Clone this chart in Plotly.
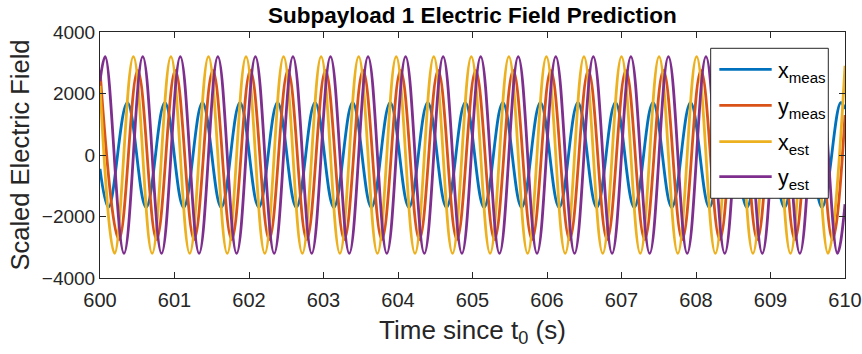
import plotly.graph_objects as go

# ---- data (extrema times and values, plus end points) ----
t_x_meas = [600.0, 600.115, 600.367, 600.619, 600.871, 601.123, 601.375, 601.627, 601.879,
            602.131, 602.383, 602.635, 602.887, 603.139, 603.391, 603.643, 603.895, 604.147,
            604.399, 604.651, 604.903, 605.155, 605.407, 605.659, 605.911, 606.163, 606.415,
            606.667, 606.919, 607.171, 607.423, 607.675, 607.927, 608.179, 608.431, 608.683,
            608.935, 609.187, 609.439, 609.691, 609.943, 610.0]
v_x_meas = [-450, -1700, 1700, -1700, 1700, -1700, 1700, -1700, 1700,
            -1700, 1700, -1700, 1700, -1700, 1700, -1700, 1700, -1700,
            1700, -1700, 1700, -1700, 1700, -1700, 1700, -1700, 1700,
            -1700, 1700, -1700, 1700, -1700, 1700, -1700, 1700, -1700,
            1700, -1700, 1700, -1700, 1700, 1500]

t_y_meas = [600.0, 600.255, 600.507, 600.759, 601.011, 601.263, 601.515, 601.767, 602.019,
            602.271, 602.523, 602.775, 603.027, 603.279, 603.531, 603.783, 604.035, 604.287,
            604.539, 604.791, 605.043, 605.295, 605.547, 605.799, 606.051, 606.303, 606.555,
            606.807, 607.059, 607.311, 607.563, 607.815, 608.067, 608.319, 608.571, 608.823,
            609.075, 609.327, 609.579, 609.831, 610.0]
v_y_meas = [2750, -2750, 2750, -2750, 2750, -2750, 2750, -2750, 2750,
            -2750, 2750, -2750, 2750, -2750, 2750, -2750, 2750, -2750,
            2750, -2750, 2750, -2750, 2750, -2750, 2750, -2750, 2750,
            -2750, 2750, -2750, 2750, -2750, 2750, -2750, 2750, -2750,
            2750, -2750, 2750, -2750, 1300]

t_x_est = [600.0, 600.196, 600.448, 600.700, 600.952, 601.204, 601.456, 601.708, 601.960,
           602.212, 602.464, 602.716, 602.968, 603.220, 603.472, 603.724, 603.976, 604.228,
           604.480, 604.732, 604.984, 605.236, 605.488, 605.740, 605.992, 606.244, 606.496,
           606.748, 607.000, 607.252, 607.504, 607.756, 608.008, 608.260, 608.512, 608.764,
           609.016, 609.268, 609.520, 609.772, 610.0]
v_x_est = [2250, -3200, 3200, -3200, 3200, -3200, 3200, -3200, 3200,
           -3200, 3200, -3200, 3200, -3200, 3200, -3200, 3200, -3200,
           3200, -3200, 3200, -3200, 3200, -3200, 3200, -3200, 3200,
           -3200, 3200, -3200, 3200, -3200, 3200, -3200, 3200, -3200,
           3200, -3200, 3200, -3200, 2900]

t_y_est = [600.0, 600.070, 600.322, 600.574, 600.826, 601.078, 601.330, 601.582, 601.834,
           602.086, 602.338, 602.590, 602.842, 603.094, 603.346, 603.598, 603.850, 604.102,
           604.354, 604.606, 604.858, 605.110, 605.362, 605.614, 605.866, 606.118, 606.370,
           606.622, 606.874, 607.126, 607.378, 607.630, 607.882, 608.134, 608.386, 608.638,
           608.890, 609.142, 609.394, 609.646, 609.898, 610.0]
v_y_est = [2400, 3200, -3200, 3200, -3200, 3200, -3200, 3200, -3200,
           3200, -3200, 3200, -3200, 3200, -3200, 3200, -3200, 3200,
           -3200, 3200, -3200, 3200, -3200, 3200, -3200, 3200, -3200,
           3200, -3200, 3200, -3200, 3200, -3200, 3200, -3200, 3200,
           -3200, 3200, -3200, 3200, -3200, -1600]

series_names = ["x<sub>meas</sub>", "y<sub>meas</sub>", "x<sub>est</sub>", "y<sub>est</sub>"]
series_colors = ["#0072BD", "#D95319", "#EDB120", "#7E2F8E"]
x_ticks = [600, 601, 602, 603, 604, 605, 606, 607, 608, 609, 610]
y_ticks = [-4000, -2000, 0, 2000, 4000]

FONT = "Liberation Sans, Arial, sans-serif"
AX = "#262626"

fig = go.Figure()
for t, v, name, col in zip([t_x_meas, t_y_meas, t_x_est, t_y_est],
                           [v_x_meas, v_y_meas, v_x_est, v_y_est],
                           series_names, series_colors):
    fig.add_trace(go.Scatter(x=t, y=v, mode="lines", name=name, showlegend=False,
                             line=dict(color=col, width=2.8, shape="spline",
                                       smoothing=1.1, simplify=False)))

# ---- legend drawn as a boxed key (paper coordinates) ----
legend_x0, legend_x1 = 0.8197, 0.9776
legend_y0, legend_y1 = 0.324, 0.9337
key_line_x = (0.8313, 0.9016)
key_text_x = 0.9074
key_rows_y = [0.8484, 0.7020, 0.5541, 0.4118]

shapes = [dict(type="rect", xref="paper", yref="paper",
               x0=legend_x0, x1=legend_x1, y0=legend_y0, y1=legend_y1,
               fillcolor="white", line=dict(color=AX, width=1), layer="above")]
annotations = []
for name, col, yy in zip(series_names, series_colors, key_rows_y):
    shapes.append(dict(type="line", xref="paper", yref="paper",
                       x0=key_line_x[0], x1=key_line_x[1], y0=yy, y1=yy,
                       line=dict(color=col, width=2.8), layer="above"))
    annotations.append(dict(xref="paper", yref="paper", x=key_text_x, y=yy,
                            xanchor="left", yanchor="middle", showarrow=False,
                            text=name, yshift=-3,
                            font=dict(size=21.5, color="black", family=FONT)))

fig.update_layout(
    width=862, height=354,
    margin=dict(l=100, r=17, t=32, b=76, autoexpand=False),
    paper_bgcolor="white", plot_bgcolor="white",
    font=dict(family=FONT, color=AX),
    title=dict(text="<b>Subpayload 1 Electric Field Prediction</b>",
               x=0.548, xanchor="center", y=0.957, yanchor="middle",
               font=dict(size=22.5, color="black", family=FONT)),
    shapes=shapes, annotations=annotations,
    showlegend=False,
)
fig.update_xaxes(range=[600, 610], tickvals=x_ticks, ticks="inside", ticklen=6,
                 tickcolor=AX, showline=True, linecolor=AX, linewidth=1,
                 mirror="ticks", showgrid=False, zeroline=False, automargin=False,
                 tickfont=dict(size=20, color=AX), ticklabelstandoff=4,
                 title=dict(text="Time since t<sub>0</sub> (s)",
                            font=dict(size=26, color=AX), standoff=10))
fig.update_yaxes(range=[-4000, 4000], tickvals=y_ticks, ticks="inside", ticklen=6,
                 tickcolor=AX, showline=True, linecolor=AX, linewidth=1,
                 mirror="ticks", showgrid=False, zeroline=False, automargin=False,
                 tickfont=dict(size=19, color=AX),
                 title=dict(text="Scaled Electric Field",
                            font=dict(size=25.5, color=AX), standoff=4))

fig.write_html("out.html")
